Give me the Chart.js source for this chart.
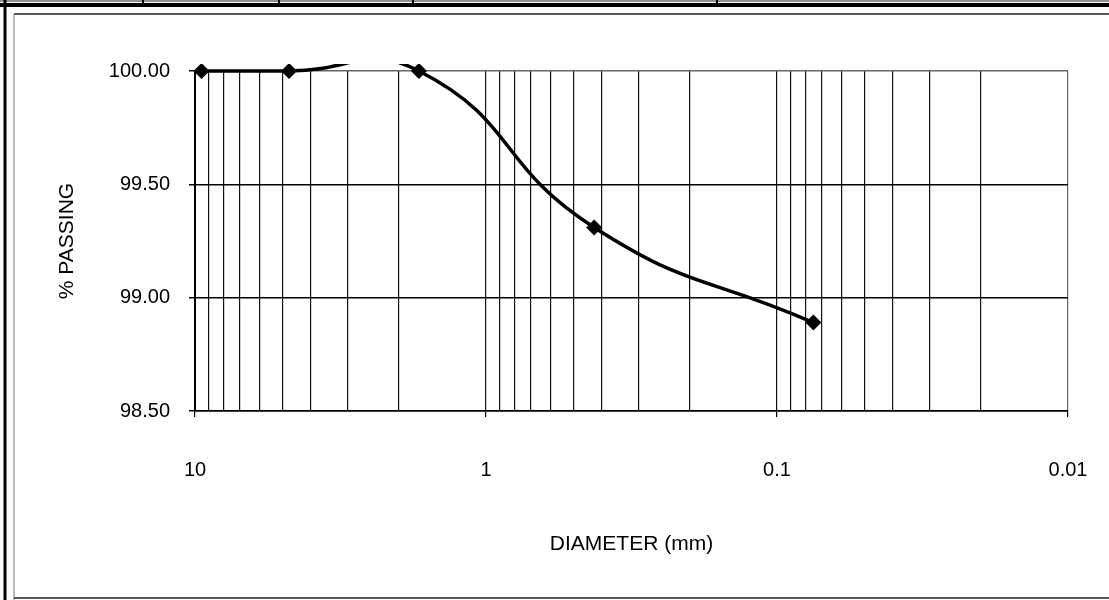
<!DOCTYPE html>
<html>
<head>
<meta charset="utf-8">
<script src="https://cdn.jsdelivr.net/npm/chart.js@4.4.1/dist/chart.umd.min.js"></script>
<style>
html, body { margin: 0; padding: 0; background: #fff; }
#wrap { width: 1109px; height: 600px; position: relative; }
</style>
</head>
<body>
<div id="wrap"><canvas id="grading"></canvas></div>
<script>
// sieve analysis: diameter (mm) vs % passing
var diameters = [9.5, 4.75, 1.7, 0.425, 0.075];
var passing = [100, 100, 100, 99.31, 98.89];
var decadeLabels = [10, 1, 0.1, 0.01];
var yMin = 98.5, yMax = 100, yStep = 0.5;

// log grid 1..9 in every decade
var xGrid = [];
for (var d = decadeLabels.length - 1; d > 0; d--) {
	for (var k = 1; k <= 9; k++) xGrid.push(+(decadeLabels[d] * k).toPrecision(3));
}
xGrid.push(decadeLabels[0]);

function isDecade(v) {
	return decadeLabels.some(function(m) { return Math.abs(m - v) < m * 1e-6; });
}

var points = diameters.map(function(x, i) { return { x: x, y: passing[i] }; });

var FONT = "'Liberation Sans', Arial, sans-serif";

// page frame from the scanned sheet
var sheetFrame = {
	id: 'sheetFrame',
	beforeDraw: function(chart) {
		var c = chart.ctx, W = chart.width, H = chart.height;
		function seg(x1, y1, x2, y2, w, col) {
			c.beginPath(); c.lineWidth = w; c.strokeStyle = col;
			c.moveTo(x1, y1); c.lineTo(x2, y2); c.stroke();
		}
		c.save();
		c.fillStyle = '#fff';
		c.fillRect(0, 0, W, H);
		seg(0, 1, W, 1, 1, '#222');
		seg(0, 5, W, 5, 4, '#000');
		[143, 279, 413, 717].forEach(function(x) { seg(x, 0, x, 6, 2, '#000'); });
		seg(5, 0, 5, H, 3, '#000');
		seg(14, 14, W, 14, 1.5, '#222');
		seg(14, 14, 14, H, 1, '#777');
		seg(14, 598, W, 598, 1.5, '#222');
		c.restore();
	}
};

new Chart(document.getElementById('grading'), {
	type: 'scatter',
	data: {
		datasets: [{
			data: points,
			showLine: true,
			borderColor: '#000',
			backgroundColor: '#000',
			borderWidth: 3.5,
			tension: 0.5,
			pointStyle: 'rectRot',
			pointRadius: 8,
			pointBorderWidth: 0,
			clip: 7
		}]
	},
	options: {
		responsive: true,
		maintainAspectRatio: false,
		animation: false,
		devicePixelRatio: 1,
		elements: { line: { capBezierPoints: false } },
		layout: { padding: { top: 71, right: 41, bottom: 0, left: 0 } },
		plugins: { legend: { display: false }, tooltip: { enabled: false } },
		scales: {
			x: {
				type: 'logarithmic',
				reverse: true,
				min: decadeLabels[decadeLabels.length - 1],
				max: decadeLabels[0],
				afterBuildTicks: function(axis) {
					axis.ticks = xGrid.map(function(v) { return { value: v, major: isDecade(v) }; });
				},
				afterFit: function(axis) { axis.height = 189; },
				ticks: {
					autoSkip: false,
					maxRotation: 0,
					padding: 41,
					color: '#000',
					font: { family: FONT, size: 20 },
					callback: function(v) { return isDecade(v) ? String(v) : ''; }
				},
				grid: {
					color: function(ctx) { return ctx.tick && Math.abs(ctx.tick.value - 0.01) < 1e-6 ? '#666' : '#111'; },
					lineWidth: 1.2,
					tickLength: 6,
					tickColor: function(ctx) { return ctx.tick && isDecade(ctx.tick.value) ? '#000' : 'rgba(0,0,0,0)'; }
				},
				border: { color: '#000', width: 1.5 },
				title: {
					display: true,
					text: 'DIAMETER (mm)',
					color: '#000',
					font: { family: FONT, size: 21 },
					padding: { top: 0, bottom: 43 }
				}
			},
			y: {
				min: yMin,
				max: yMax,
				afterFit: function(axis) { axis.width = 195; },
				ticks: {
					stepSize: yStep,
					padding: 19,
					color: '#000',
					font: { family: FONT, size: 20 },
					callback: function(v) { return Number(v).toFixed(2); }
				},
				grid: {
					color: function(ctx) { return ctx.tick && ctx.tick.value >= yMax ? '#666' : '#000'; },
					lineWidth: 1.5,
					tickLength: 6,
					tickColor: '#000'
				},
				border: { color: '#000', width: 2 },
				title: {
					display: true,
					text: '% PASSING',
					color: '#000',
					font: { family: FONT, size: 21 },
					padding: { top: 55, bottom: 0 }
				}
			}
		}
	},
	plugins: [sheetFrame]
});
</script>
</body>
</html>
